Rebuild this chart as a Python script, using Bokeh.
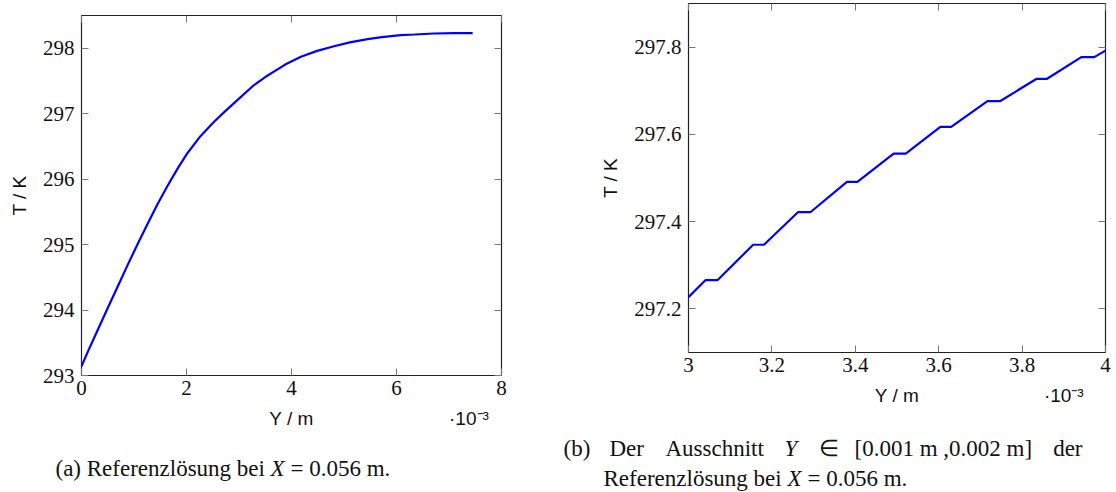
from bokeh.plotting import figure
from bokeh.layouts import row, column
from bokeh.models import Range1d, FixedTicker, LinearAxis, CustomJSTickFormatter, Label
from bokeh.embed import file_html
from bokeh.resources import INLINE

# ---------------- data (Y in 1e-3 m, T in K) ----------------
# (a) reference solution at X = 0.056 m
ref_Y = [0.0, 0.13, 0.3, 0.5, 0.69, 0.88, 1.07, 1.26, 1.45, 1.64, 1.83, 2.02,
         2.27, 2.53, 2.78, 3.0, 3.26, 3.5, 3.88, 4.18, 4.49, 4.81, 5.11, 5.45,
         5.72, 6.08, 6.34, 6.72, 7.1, 7.45]
ref_T = [293.14, 293.38, 293.68, 294.03, 294.36, 294.69, 295.01, 295.32, 295.62,
         295.90, 296.16, 296.40, 296.66, 296.88, 297.07, 297.23, 297.42, 297.56,
         297.75, 297.87, 297.96, 298.03, 298.09, 298.14, 298.17, 298.20, 298.21,
         298.225, 298.23, 298.23]

# (b) detail of the same solution
det_Y = [3.0, 3.041, 3.070, 3.155, 3.181, 3.263, 3.293, 3.380, 3.405, 3.492,
         3.521, 3.604, 3.630, 3.717, 3.747, 3.834, 3.859, 3.942, 3.973, 4.0]
det_T = [297.227, 297.266, 297.266, 297.347, 297.347, 297.422, 297.422, 297.491,
         297.491, 297.556, 297.556, 297.617, 297.617, 297.676, 297.676, 297.727,
         297.727, 297.777, 297.777, 297.792]

left_xticks = [0, 2, 4, 6, 8]
left_yticks = [293, 294, 295, 296, 297, 298]
right_xticks = [3.0, 3.2, 3.4, 3.6, 3.8, 4.0]
right_yticks = [297.2, 297.4, 297.6, 297.8]

x_label = "Y / m"
x_scale_note = "·10⁻³"
y_label = "T / K"
caption_a = ["(a) Referenzlösung bei", "X", "= 0.056 m."]
caption_b1 = ["(b)", "Der", "Ausschnitt", "Y", "∈", "[0.001 m ,0.002 m]", "der"]
caption_b2 = ["Referenzlösung bei", "X", "= 0.056 m."]

SERIF = "Liberation Serif"
SANS = "Liberation Sans"
TICK_COLOR = "#777777"
TOP_H = 436
CAP_H = 56


def make_fig(width, xr, yr, xticks, yticks, bl, br, bt, bb, label_pos):
    p = figure(width=width, height=TOP_H, x_range=Range1d(*xr), y_range=Range1d(*yr),
               output_backend="svg", toolbar_location=None,
               min_border_left=bl, min_border_right=br, min_border_top=bt,
               min_border_bottom=bb)
    p.grid.visible = False
    p.outline_line_color = "#222222"
    p.outline_line_width = 1.2
    p.background_fill_color = "white"
    p.border_fill_color = "white"
    fmt = CustomJSTickFormatter(code="return String(+tick.toFixed(4));")
    for ax, ticks in ((p.xaxis[0], xticks), (p.yaxis[0], yticks)):
        ax.ticker = FixedTicker(ticks=ticks)
        ax.formatter = fmt
        ax.major_tick_in = 7
        ax.major_tick_out = 0
        ax.minor_tick_line_color = None
        ax.major_tick_line_color = TICK_COLOR
        ax.axis_line_color = None
        ax.major_label_text_font = SERIF
        ax.major_label_text_font_size = "21px"
        ax.major_label_text_color = "#111111"
        ax.axis_label_text_font = SANS
        ax.axis_label_text_font_size = "19px"
        ax.axis_label_text_font_style = "normal"
        ax.axis_label_text_color = "#111111"
    p.yaxis[0].axis_label = y_label
    p.xaxis[0].major_label_standoff = 5
    p.yaxis[0].major_label_standoff = 7
    p.yaxis[0].axis_label_standoff = 10
    blank = CustomJSTickFormatter(code="return '';")
    for loc, ticks in (("right", yticks), ("above", xticks)):
        ax = LinearAxis(ticker=FixedTicker(ticks=ticks), formatter=blank,
                        major_tick_in=7, major_tick_out=0, minor_tick_line_color=None,
                        major_tick_line_color=TICK_COLOR, axis_line_color=None,
                        major_label_standoff=0, major_label_text_font_size="1px")
        p.add_layout(ax, loc)
    # second row under the tick labels: axis title and the 10^-3 factor
    note = LinearAxis(ticker=FixedTicker(ticks=list(label_pos)),
                      major_label_overrides={label_pos[0]: x_label, label_pos[1]: x_scale_note},
                      major_tick_in=0, major_tick_out=0, minor_tick_line_color=None,
                      major_tick_line_color=None, axis_line_color=None,
                      major_label_standoff=10, major_label_text_font=SANS,
                      major_label_text_font_size="19px", major_label_text_color="#111111")
    p.add_layout(note, "below")
    return p


p1 = make_fig(560, (0, 8), (293, 298.5), left_xticks, left_yticks, 81, 59, 15, 61,
              (4, 7.38))
p1.line(ref_Y, ref_T, line_color="#0000ff", line_width=2.2)

p2 = make_fig(556, (3, 4), (297.1, 297.9), right_xticks, right_yticks, 128, 11, 3, 84,
              (3.5, 3.9))
p2.line(det_Y, det_T, line_color="#0000ff", line_width=2.2)

# caption strip
cap = figure(width=1116, height=CAP_H, x_range=Range1d(0, 1116), y_range=Range1d(0, CAP_H),
             output_backend="svg", toolbar_location=None, x_axis_type=None,
             y_axis_type=None, min_border=0)
cap.grid.visible = False
cap.outline_line_color = None


def add_text(x, y, text, align="left", style="normal"):
    cap.add_layout(Label(x=x, y=y, x_units="screen", y_units="screen", text=text,
                         text_font=SERIF, text_font_size="23px", text_color="#111111",
                         text_font_style=style, text_baseline="middle", text_align=align))


# (a) caption, one line
add_text(55, 24, caption_a[0])
add_text(270, 24, caption_a[1], style="italic")
add_text(290, 24, caption_a[2])
# (b) caption, first (justified) line
b1_x = [563, 609, 665, 784, 818, 854]
for x, word in zip(b1_x, caption_b1[:-1]):
    add_text(x, 44, word, style="italic" if word == "Y" else "normal")
add_text(1082, 44, caption_b1[-1], align="right")
# (b) caption, second line
add_text(603, 14, caption_b2[0])
add_text(787, 14, caption_b2[1], style="italic")
add_text(807, 14, caption_b2[2])

layout = column(row(column(p1), column(p2)), cap)
open("out.html", "w").write(file_html(layout, INLINE))
